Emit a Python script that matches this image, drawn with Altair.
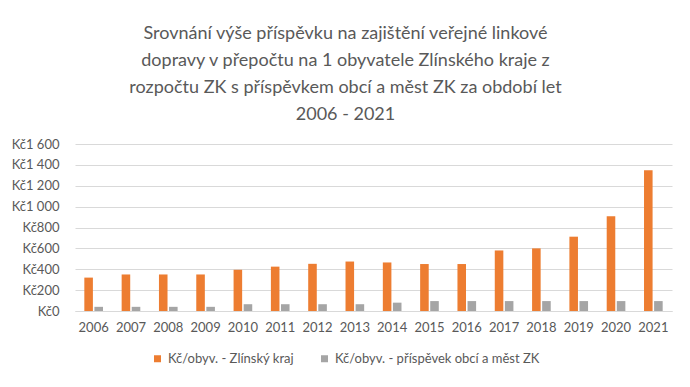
import altair as alt
import pandas as pd

years = ["2006", "2007", "2008", "2009", "2010", "2011", "2012", "2013",
         "2014", "2015", "2016", "2017", "2018", "2019", "2020", "2021"]
kraj = [320, 350, 350, 350, 395, 425, 452, 474, 465, 450, 450, 580, 600, 712, 907, 1348]
obce = [40, 40, 40, 40, 65, 65, 65, 65, 80, 95, 95, 95, 95, 95, 95, 95]
series = ["Kč/obyv. - Zlínský kraj", "Kč/obyv. - příspěvek obcí a měst ZK"]
colors = ["#ed7d31", "#a5a5a5"]
title_lines = [
    "Srovnání výše příspěvku na zajištění veřejné linkové",
    "dopravy v přepočtu na 1 obyvatele Zlínského kraje z",
    "rozpočtu ZK s příspěvkem obcí a měst ZK za období let",
    "2006 - 2021",
]
y_ticks = [0, 200, 400, 600, 800, 1000, 1200, 1400, 1600]

rows = []
for i, yr in enumerate(years):
    rows.append({"rok": yr, "serie": series[0], "hodnota": kraj[i]})
    rows.append({"rok": yr, "serie": series[1], "hodnota": obce[i]})
df = pd.DataFrame(rows)

FONT = "Lato"
TXT = "#595959"

chart = alt.Chart(df).mark_bar().encode(
    x=alt.X("rok:N", sort=years,
            scale=alt.Scale(paddingInner=0.5, paddingOuter=0.25),
            axis=alt.Axis(title=None, labelAngle=0, ticks=False, domainColor="#d9d9d9",
                          labelPadding=10, labelFontSize=13, labelColor=TXT, labelFont=FONT)),
    xOffset=alt.XOffset("serie:N", sort=series, scale=alt.Scale(paddingInner=0.15)),
    y=alt.Y("hodnota:Q", scale=alt.Scale(domain=[0, 1600]),
            axis=alt.Axis(title=None, values=y_ticks, domain=False, ticks=False,
                          gridColor="#d9d9d9", labelPadding=16, labelFontSize=13,
                          labelColor=TXT, labelFont=FONT,
                          labelExpr="'Kč' + replace(format(datum.value, ',d'), ',', ' ')")),
    color=alt.Color("serie:N", sort=series,
                    scale=alt.Scale(domain=series, range=colors),
                    legend=alt.Legend(title=None, orient="none", legendX=76, legendY=208,
                                      direction="horizontal", symbolType="square",
                                      symbolSize=49, symbolStrokeWidth=0,
                                      labelFontSize=13, labelColor=TXT, labelFont=FONT,
                                      labelOffset=4, columnPadding=24, labelLimit=0)),
).properties(
    width=597, height=167,
    title=alt.TitleParams(text=title_lines, anchor="middle", dx=-28, font=FONT,
                          fontSize=18, fontWeight="normal", color=TXT, lineHeight=27,
                          offset=14),
    padding={"left": 67, "top": 136, "right": 8, "bottom": 60},
    autosize="none",
).configure_view(stroke=None)

chart.save("out.html", embed_options={"renderer": "svg", "actions": False})
